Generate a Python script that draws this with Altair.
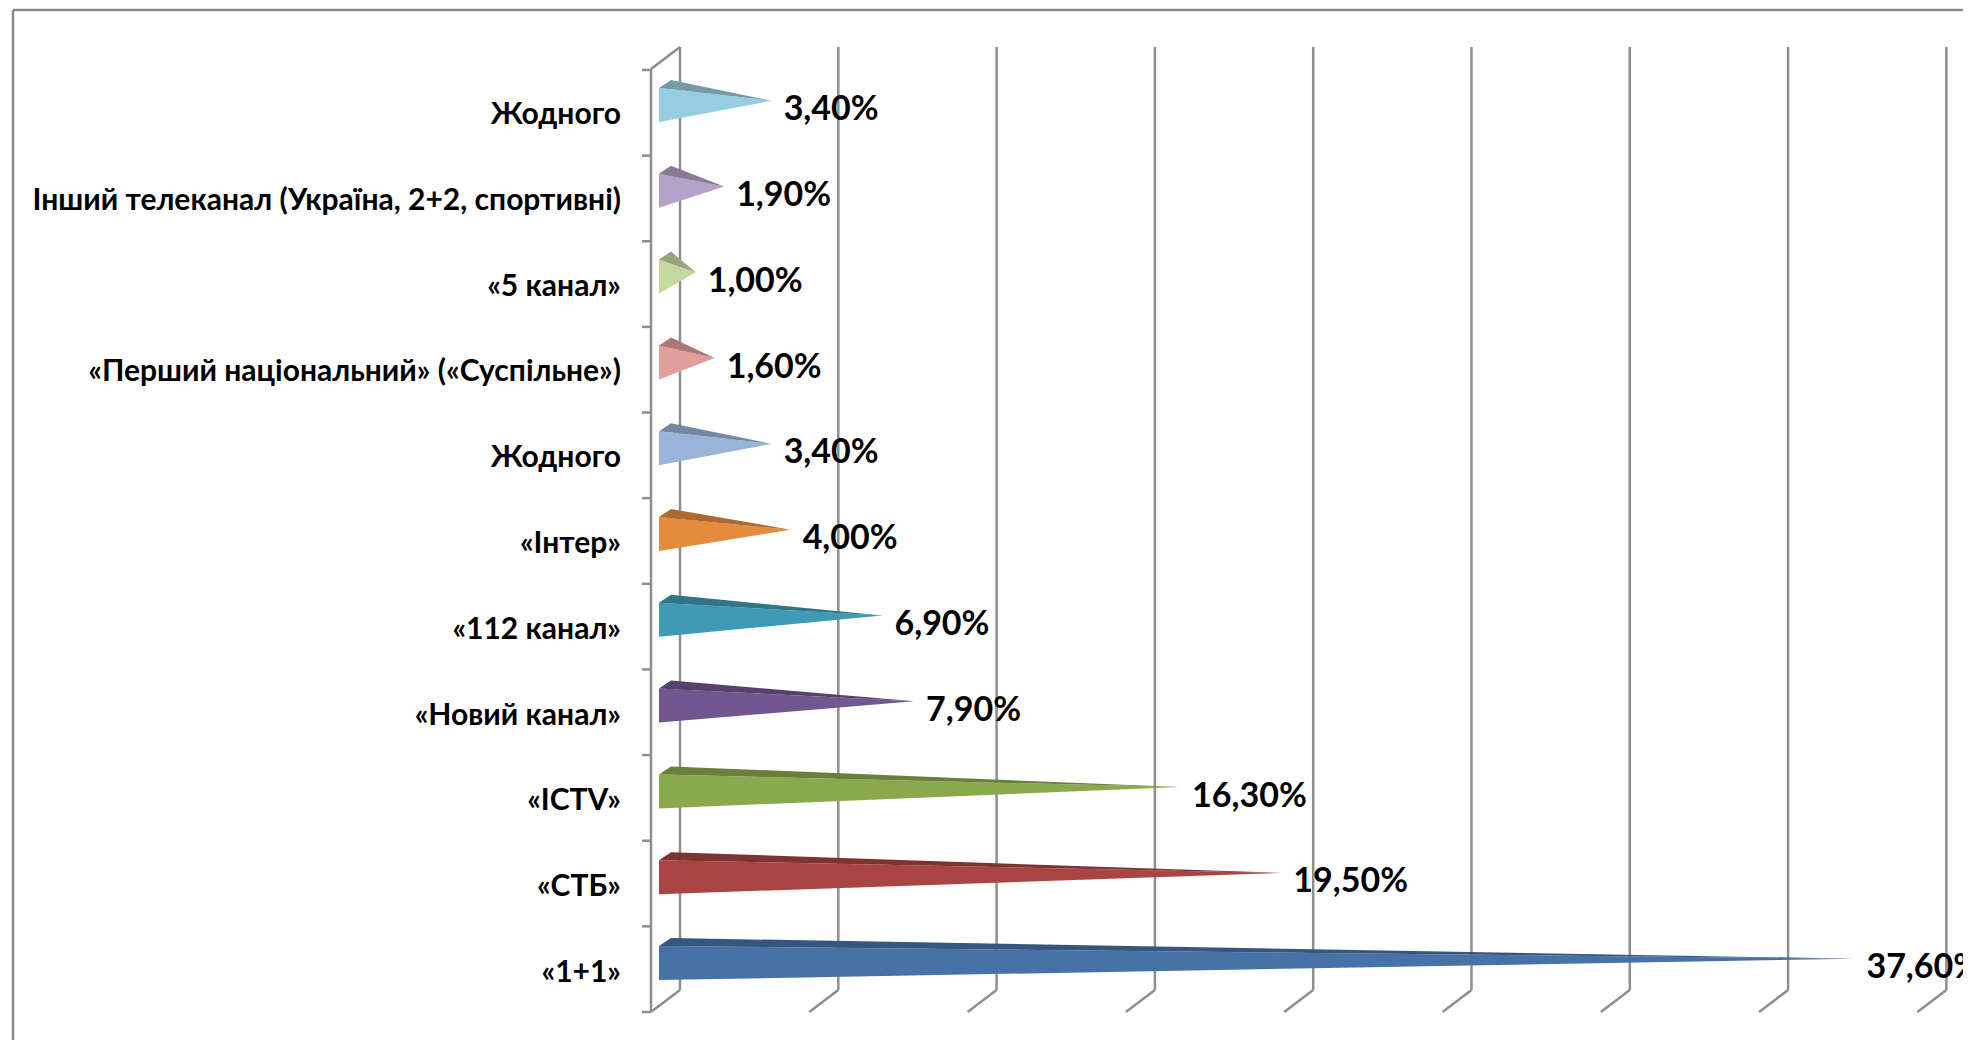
import altair as alt
import pandas as pd

# ---- values (bottom to top) ----
categories = ["«1+1»", "«СТБ»", "«ICTV»", "«Новий канал»", "«112 канал»", "«Інтер»",
              "Жодного", "«Перший національний» («Суспільне»)", "«5 канал»",
              "Інший телеканал (Україна, 2+2, спортивні)", "Жодного"]
values = [37.6, 19.5, 16.3, 7.9, 6.9, 4.0, 3.4, 1.6, 1.0, 1.9, 3.4]
value_labels = ["37,60%", "19,50%", "16,30%", "7,90%", "6,90%", "4,00%", "3,40%", "1,60%", "1,00%", "1,90%", "3,40%"]
front_colors = ["#4672A8", "#A94442", "#8AA94D", "#71578F", "#3F9BB4", "#E48B3D",
                "#9AB3D9", "#E19E9D", "#C5D8A0", "#B3A3C9", "#98CCE0"]
top_colors = ["#34567F", "#7F3331", "#68803A", "#55416C", "#2F7588", "#AD692E",
              "#7488A5", "#AB7777", "#95A479", "#887B99", "#739BAA"]
grid_ticks = [0, 5, 10, 15, 20, 25, 30, 35, 40]

# ---- projection of the 3-D frame, in screen pixels ----
W, H = 1955, 1032
PX_PER_PCT = 31.66
PX_PER_CAT = 85.8
X0 = 656      # plot x of 0 % at the cone axis
Y0 = 955      # plot y of the first category
x_dom = [-X0 / PX_PER_PCT, (W - X0) / PX_PER_PCT]
y_dom = [(Y0 - H) / PX_PER_CAT, Y0 / PX_PER_CAT]
dx = lambda p: p / PX_PER_PCT   # pixels to axis units
dy = lambda p: p / PX_PER_CAT

x_scale = alt.Scale(domain=x_dom, range=[0, W], nice=False, zero=False)
y_scale = alt.Scale(domain=y_dom, range=[H, 0], nice=False, zero=False)

GRID = "#8E8E8E"
BACK, FRONT = dx(16), dx(-13)
AX_BACK_TOP, AX_FRONT_TOP = dy(916), dy(894)
FLOOR_BACK, FLOOR_FRONT = dy(-27), dy(-49)

rows_front, rows_top = [], []
for i, (v, fc, tc) in enumerate(zip(values, front_colors, top_colors)):
    base, tip = dx(-5), v
    up, low, tipy = i + dy(17), i - dy(17), i + dy(4.3)
    rows_front += [dict(k=i, c=fc, x=base, y=up, y2=low), dict(k=i, c=fc, x=tip, y=tipy, y2=tipy)]
    bx, by = base + dx(12), up + dy(8)
    low_at_b = up + (tipy - up) * (bx - base) / (tip - base)
    rows_top += [dict(k=i, c=tc, x=base, y=up, y2=up),
                 dict(k=i, c=tc, x=bx, y=by, y2=low_at_b),
                 dict(k=i, c=tc, x=tip, y=tipy, y2=tipy)]

X = alt.X("x:Q", scale=x_scale, axis=None)
Y = alt.Y("y:Q", scale=y_scale, axis=None)

def faces(rows):
    return alt.Chart(pd.DataFrame(rows)).mark_area(orient="vertical", interpolate="linear").encode(
        x=X, y=alt.Y("y:Q", scale=y_scale, axis=None, stack=None), y2="y2:Q",
        fill=alt.Fill("c:N", scale=None), detail="k:N")

grid_df = pd.DataFrame({"x": [t + BACK for t in grid_ticks], "y": FLOOR_BACK, "y2": AX_BACK_TOP})
grid = alt.Chart(grid_df).mark_rule(color=GRID, strokeWidth=2.5).encode(x=X, y=Y, y2="y2:Q")

floor_rows = []
for t in grid_ticks:
    floor_rows += [dict(t=t, o=0, x=t + BACK, y=FLOOR_BACK), dict(t=t, o=1, x=t + FRONT, y=FLOOR_FRONT)]
floor_rows += [dict(t=-1, o=0, x=BACK, y=AX_BACK_TOP), dict(t=-1, o=1, x=FRONT, y=AX_FRONT_TOP)]
floor = alt.Chart(pd.DataFrame(floor_rows)).mark_line(color=GRID, strokeWidth=2.5).encode(
    x=X, y=Y, detail="t:N", order="o:Q")

axis_line = alt.Chart(pd.DataFrame({"x": [FRONT], "y": [FLOOR_FRONT], "y2": [AX_FRONT_TOP]})).mark_rule(
    color=GRID, strokeWidth=2.5).encode(x=X, y=Y, y2="y2:Q")

tick_df = pd.DataFrame({"y": [FLOOR_FRONT + dy(85.64) * k for k in range(12)], "x": FRONT, "x2": FRONT + dx(-9)})
cat_ticks = alt.Chart(tick_df).mark_rule(color=GRID, strokeWidth=2.5).encode(x=X, x2="x2:Q", y=Y)

cat_df = pd.DataFrame({"x": dx(-43), "y": list(range(len(categories))), "t": categories})
cat_text = alt.Chart(cat_df).mark_text(align="right", baseline="middle", dy=10, font="Lato",
                                       fontWeight="bold", fontSize=30, color="#000000").encode(x=X, y=Y, text="t:N")

val_df = pd.DataFrame({"x": [v + dx(12) for v in values], "y": [i + dy(4.3) for i in range(len(values))], "t": value_labels})
val_text = alt.Chart(val_df).mark_text(align="left", baseline="middle", dy=9.5, font="Lato",
                                       fontWeight="bold", fontSize=34, color="#000000").encode(x=X, y=Y, text="t:N")

border_left = alt.Chart(pd.DataFrame({"a": [0]})).mark_rule(color="#888888", strokeWidth=2.5).encode(
    x=alt.value(5), y=alt.value(2), y2=alt.value(H))
border_top = alt.Chart(pd.DataFrame({"a": [0]})).mark_rule(color="#888888", strokeWidth=2.5).encode(
    y=alt.value(2), x=alt.value(5), x2=alt.value(W))

chart = alt.layer(border_left, border_top, grid, floor, axis_line, cat_ticks,
                  faces(rows_front), faces(rows_top), cat_text, val_text).properties(
    width=W, height=H, padding=0, autosize=alt.AutoSizeParams(type="none"),
    background="#FFFFFF").configure_view(stroke=None)

chart.save("out.html", embed_options={"renderer": "svg", "actions": False})
